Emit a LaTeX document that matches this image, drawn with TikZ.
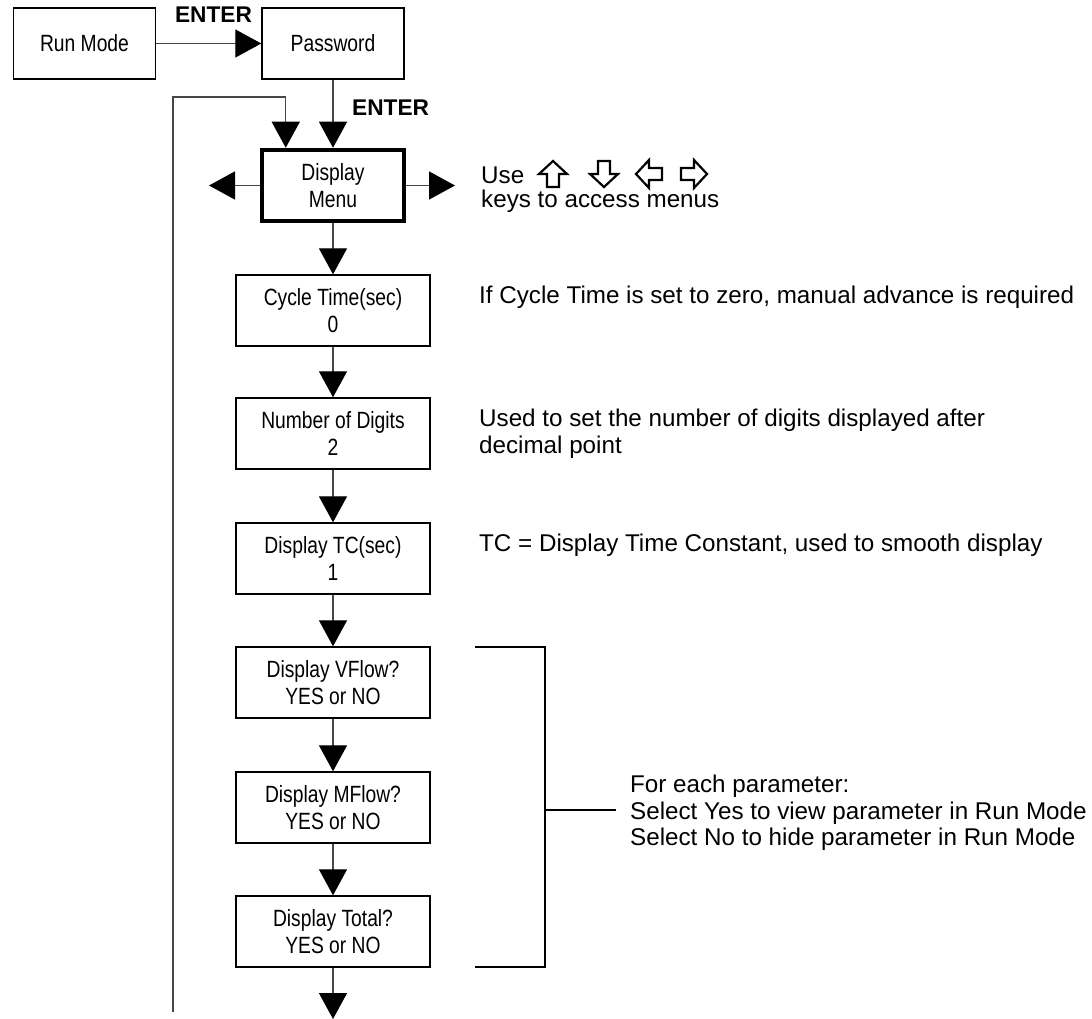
\documentclass[tikz,border=0pt]{standalone}
\usepackage{fontspec}
\setmainfont{Liberation Sans}
\newfontfamily\narrowfont[FakeStretch=0.82]{Liberation Sans}
\usetikzlibrary{arrows.meta,calc}
\definecolor{linegray}{RGB}{70,70,70}
\tikzset{
  box/.style={draw=black, line width=1.4pt, minimum width=194pt, minimum height=71pt,
    inner sep=0pt, align=center, font=\narrowfont\fontsize{23.5}{27}\selectfont},
  smallbox/.style={box, minimum width=142pt},
  bigbox/.style={box, minimum width=142pt, line width=4.5pt},
  conn/.style={draw=linegray, line width=1.3pt, -{Triangle[length=26pt,width=28pt,fill=black,color=black]}},
  plainline/.style={draw=black, line width=1.2pt},
  note/.style={anchor=west, inner sep=0pt, align=left, font=\fontsize{24.2}{26.5}\selectfont},
  enter/.style={inner sep=0pt, font=\bfseries\fontsize{22.7}{26}\selectfont},
  keyarr/.pic={\draw[line width=2.2pt, line join=miter] (0,-13)--(14,0)--(6,0)--(6,13)--(-6,13)--(-6,0)--(-14,0)--cycle;}
}
\begin{document}
\begin{tikzpicture}[x=1pt,y=-1pt]
\useasboundingbox (0,0) rectangle (1092,1019);
% boxes
\node[smallbox] (run) at (84.5,43.5) {Run Mode};
\node[smallbox] (pw) at (333,43.5) {Password};
\node[bigbox] (dm) at (333,185.5) {Display\\Menu};
\node[box] (ct) at (333,310.5) {Cycle Time(sec)\\0};
\node[box] (nd) at (333,433.5) {Number of Digits\\2};
\node[box] (tc) at (333,558.5) {Display TC(sec)\\1};
\node[box] (vf) at (333,682.5) {Display VFlow?\\YES or NO};
\node[box] (mf) at (333,807.5) {Display MFlow?\\YES or NO};
\node[box] (tot) at (333,931.5) {Display Total?\\YES or NO};
% free ends
\coordinate (dmL) at (209,185.5);
\coordinate (dmR) at (455,185.5);
\coordinate (endArr) at (333,1019);
\coordinate (fbBot) at (173,1012);
\coordinate (fbTop) at (173,97);
% connectors
\draw[conn] (run.east) -- (pw.west);
\draw[conn] (pw.south) -- (dm.north);
\draw[conn] (fbBot) -- (fbTop) -| ([xshift=26pt]dm.north west);
\draw[conn] (dm.west) -- (dmL);
\draw[conn] (dm.east) -- (dmR);
\draw[conn] (dm.south) -- (ct.north);
\draw[conn] (ct.south) -- (nd.north);
\draw[conn] (nd.south) -- (tc.north);
\draw[conn] (tc.south) -- (vf.north);
\draw[conn] (vf.south) -- (mf.north);
\draw[conn] (mf.south) -- (tot.north);
\draw[conn] (tot.south) -- (endArr);
% labels
\node[enter] (e1) at (213.5,15) {ENTER};
\node[enter, anchor=west] (e2) at (352,108) {ENTER};
% key hint
\node[note] (use) at (481,175) {Use};
\pic at (553,174) {keyarr};
\pic[rotate=180] at (604,174) {keyarr};
\pic[rotate=90] at (649,174) {keyarr};
\pic[rotate=-90] at (694,174) {keyarr};
\node[note] (keys) at (481,201) {keys to access menus};
% notes
\node[note] (n1) at (479,297) {If Cycle Time is set to zero, manual advance is required};
\node[note] (n2) at (479,433.5) {Used to set the number of digits displayed after\\decimal point};
\node[note] (n3) at (479,545) {TC = Display Time Constant, used to smooth display};
\node[note] (n4) at (630,813) {For each parameter:\\Select Yes to view parameter in Run Mode\\Select No to hide parameter in Run Mode};
% bracket
\draw[plainline] (475,647) -- (545,647) -- (545,967) -- (475,967);
\draw[plainline] (545,810) -- (616,810);
\end{tikzpicture}
\end{document}
